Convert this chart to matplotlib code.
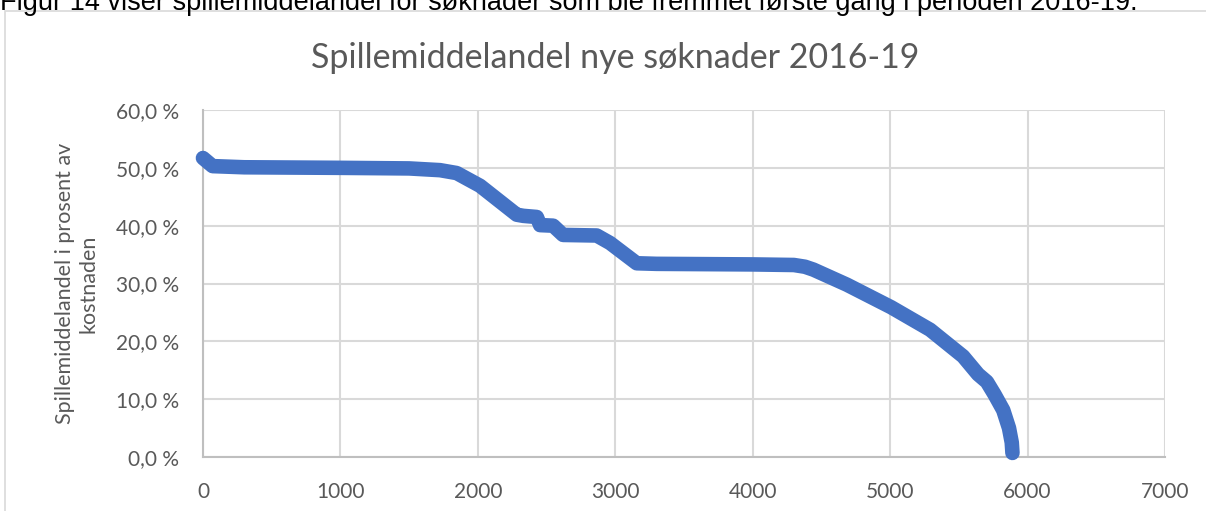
import matplotlib
matplotlib.use('Agg')
import matplotlib.pyplot as plt
from matplotlib.ticker import FuncFormatter, MultipleLocator
from matplotlib.patches import Rectangle

# sorted share of cost covered
soknad_nr = [0, 70, 300, 1000, 1500, 1725, 1846, 2016, 2283, 2331, 2429, 2453, 2548,
             2620, 2865, 2962, 3156, 3300, 4000, 4300, 4380, 4442, 4685, 5007, 5291,
             5531, 5640, 5704, 5760, 5823, 5865, 5885, 5890]
andel = [51.7, 50.3, 50.1, 50.0, 49.9, 49.6, 49.1, 46.9, 41.9, 41.7, 41.5, 40.1, 40.0,
         38.4, 38.3, 37.0, 33.5, 33.4, 33.3, 33.2, 32.9, 32.4, 29.8, 25.9, 22.0,
         17.4, 14.3, 13.0, 10.8, 8.1, 5.0, 2.5, 0.7]

title = 'Spillemiddelandel nye søknader 2016-19'
ylabel = 'Spillemiddelandel i prosent av\nkostnaden'
caption = 'Figur 14 viser spillemiddelandel for søknader som ble fremmet første gang i perioden 2016-19.'

grey = '#595959'
gridc = '#d9d9d9'
font = ['Lato', 'DejaVu Sans']

fig = plt.figure(figsize=(12.06, 5.11), dpi=100)
ax = fig.add_axes([0.1683, 0.1057, 0.7977, 0.679])

ax.plot(soknad_nr, andel, color='#4472C4', lw=10.5, solid_capstyle='round',
        solid_joinstyle='round', zorder=3, clip_on=False)

ax.set_xlim(0, 7000)
ax.set_ylim(0, 60)
ax.xaxis.set_major_locator(MultipleLocator(1000))
ax.yaxis.set_major_locator(MultipleLocator(10))
ax.yaxis.set_major_formatter(FuncFormatter(lambda v, p: f'{v:.1f}'.replace('.', ',') + ' %'))
ax.grid(True, color=gridc, lw=1.5)
ax.set_axisbelow(True)
for s in ['top', 'right']:
    ax.spines[s].set_visible(False)
for s in ['left', 'bottom']:
    ax.spines[s].set_color('#bfbfbf')
    ax.spines[s].set_linewidth(1.5)
ax.tick_params(length=0, labelsize=15, colors=grey)
ax.yaxis.set_tick_params(pad=17)
ax.xaxis.set_tick_params(pad=18)
for lab in ax.get_xticklabels() + ax.get_yticklabels():
    lab.set_family(font)

ax.set_ylabel(ylabel, fontsize=15.5, color=grey, family=font, labelpad=13)
fig.text(0.51, 0.887, title, ha='center', va='center', fontsize=24.5, color=grey, family=font)

# caption cut off at top, as in the source
fig.text(0.0, 1 - 10 / 511, caption, ha='left', va='baseline', fontsize=19.5,
         family=['Liberation Sans', 'DejaVu Sans'], color='black')

fig.patches.append(Rectangle((4.5 / 1206, -0.1), 1.2, 1 - 11 / 511 + 0.1,
                             transform=fig.transFigure, fill=False,
                             edgecolor=gridc, lw=1.2))

fig.savefig('out.png', dpi=100)
